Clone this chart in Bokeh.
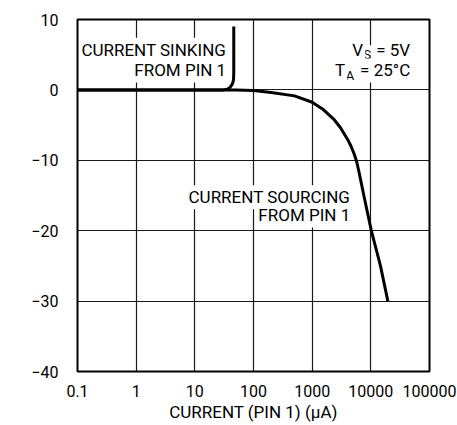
import math
from bokeh.plotting import figure
from bokeh.models import Label, FixedTicker, Range1d
from bokeh.embed import file_html
from bokeh.resources import INLINE

# ---- data ----
current_ticks = [0.1, 1, 10, 100, 1000, 10000, 100000]
current_tick_labels = ["0.1", "1", "10", "100", "1000", "10000", "100000"]
voltage_ticks = [-40, -30, -20, -10, 0, 10]
voltage_tick_labels = ["\u221240", "\u221230", "\u221220", "\u221210", "0", "10"]

sinking_current = [0.1, 31, 35.5, 39.8, 42.7, 44.7, 45.7, 46.1, 46.1]
sinking_dv = [0, 0, 0.1, 0.35, 0.7, 1.1, 1.5, 2.5, 9.0]

sourcing_current = [0.1, 10, 50, 100, 200, 500, 1000, 1500, 2300, 3000, 4000,
                    4600, 5200, 5700, 6300, 7600, 10200, 14600, 19500]
sourcing_dv = [0, 0, 0, -0.1, -0.37, -0.85, -1.75, -2.7, -4.1, -5.3, -7.0,
               -8.0, -9.1, -10.1, -11.7, -15, -20, -25, -30]

FONT = "Roboto"
TXT = 17

p = figure(width=457, height=425, x_axis_type="log",
           x_range=Range1d(0.1, 1e5), y_range=Range1d(-40, 10),
           output_backend="svg", toolbar_location=None,
           min_border_left=77, min_border_right=28,
           min_border_top=19, min_border_bottom=54)

p.background_fill_color = "white"
p.border_fill_color = "white"
p.outline_line_color = "black"
p.outline_line_width = 2

p.xaxis.ticker = FixedTicker(ticks=current_ticks)
p.xaxis.major_label_overrides = dict(zip(current_ticks, current_tick_labels))
p.yaxis.ticker = FixedTicker(ticks=voltage_ticks)
p.yaxis.major_label_overrides = dict(zip(voltage_ticks, voltage_tick_labels))

for ax in (p.xaxis, p.yaxis):
    ax.axis_line_color = None
    ax.major_tick_line_color = None
    ax.minor_tick_line_color = None
    ax.major_label_text_font = FONT
    ax.major_label_text_font_size = "16px"
    ax.major_label_text_color = "black"
    ax.axis_label_text_font = FONT
    ax.axis_label_text_font_size = f"{TXT}px"
    ax.axis_label_text_font_style = "normal"
    ax.axis_label_text_color = "black"

p.xaxis.major_label_standoff = 7
p.xaxis.axis_label = "CURRENT (PIN 1) (\u03bcA)"
p.xaxis.axis_label_standoff = 2
p.yaxis.major_label_standoff = 13

for g in (p.xgrid, p.ygrid):
    g.grid_line_color = "black"
    g.grid_line_width = 1.2
    g.grid_line_alpha = 0.9

p.line(sinking_current, sinking_dv, line_color="black", line_width=3)
p.line(sourcing_current, sourcing_dv, line_color="black", line_width=3)


def lab(text, x, y, align="right", size=TXT, bg=True, angle=0, baseline="alphabetic", xo=0):
    l = Label(x=x, y=y, text=text, text_font=FONT, text_font_size=f"{size}px",
              text_align=align, text_baseline=baseline, text_color="black",
              angle=angle, x_offset=xo)
    if bg:
        l.background_fill_color = "white"
        l.padding = 2
    p.add_layout(l)


# y axis title (placed to match reference position)
lab("CHANGE IN VOLTAGE ON PIN 1 (mV)", 0.011, -16.1, align="center",
    bg=False, angle=math.pi / 2, baseline="middle")

# annotations
lab("CURRENT SINKING", 37, 5.7)
lab("FROM PIN 1", 37, 2.76)
lab("CURRENT SOURCING", 4810, -15.24)
lab("FROM PIN 1", 4810, -17.84)

# V_S = 5V
lab("= 5V", 50700, 5.7)
lab("S", 50700, 5.0, size=13, xo=-39)
lab("V", 50700, 5.7, xo=-47)
# T_A = 25°C
lab("= 25\u00b0C", 50700, 2.76)
lab("A", 50700, 2.06, size=13, xo=-56)
lab("T", 50700, 2.76, xo=-65)

open("out.html", "w").write(file_html(p, INLINE))
